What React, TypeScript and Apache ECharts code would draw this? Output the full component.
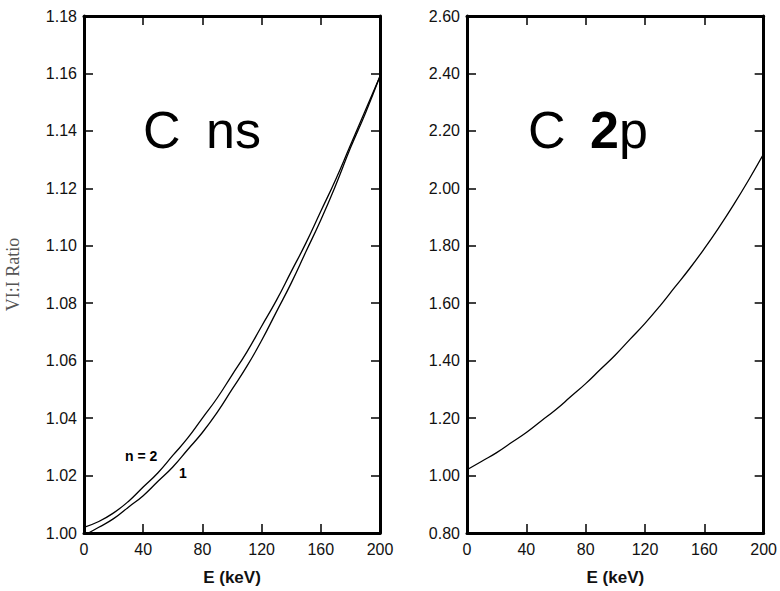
import React, { useEffect, useRef } from "react";
import * as echarts from "echarts";

// Left panel (C ns): E in keV, two curves n = 2 and n = 1
const E_N2 = [0, 10, 20, 30, 40, 50, 60, 70, 80, 90, 100, 110, 120, 130, 140, 150, 160, 170, 180, 190, 200];
const RATIO_N2 = [1.002, 1.004, 1.007, 1.011, 1.016, 1.021, 1.027, 1.033, 1.040, 1.047, 1.055, 1.063, 1.072, 1.081, 1.091, 1.101, 1.112, 1.123, 1.135, 1.147, 1.159];
const E_N1 = [3, 10, 20, 30, 40, 50, 60, 70, 80, 90, 100, 110, 120, 130, 140, 150, 160, 170, 180, 190, 200];
const RATIO_N1 = [1.000, 1.002, 1.005, 1.009, 1.013, 1.018, 1.023, 1.029, 1.035, 1.042, 1.050, 1.058, 1.067, 1.077, 1.087, 1.098, 1.109, 1.121, 1.134, 1.146, 1.159];

// Right panel (C 2p)
const E_2P = [0, 10, 20, 30, 40, 50, 60, 70, 80, 90, 100, 110, 120, 130, 140, 150, 160, 170, 180, 190, 200];
const RATIO_2P = [1.02, 1.05, 1.08, 1.115, 1.15, 1.19, 1.23, 1.275, 1.32, 1.37, 1.42, 1.475, 1.53, 1.59, 1.655, 1.72, 1.79, 1.865, 1.945, 2.03, 2.12];

const X_TICKS = [0, 40, 80, 120, 160, 200];
const LEFT_Y = { min: 1.0, max: 1.18, interval: 0.02 };
const RIGHT_Y = { min: 0.8, max: 2.6, interval: 0.2 };

const FONT = "Liberation Sans, Arial, Helvetica, sans-serif";

function pairs(xs: number[], ys: number[]) {
  return xs.map((x, i) => [x, ys[i]]);
}

export default function App() {
  const ref = useRef<HTMLDivElement>(null);

  useEffect(() => {
    if (!ref.current) return;
    const chart = echarts.init(ref.current, null, { renderer: "svg" });

    const axisLine = { show: true, onZero: false, lineStyle: { color: "#000", width: 3 } };
    const tick = { show: true, inside: true, length: 9, lineStyle: { color: "#000", width: 1.5 } };
    const label = { color: "#111", fontSize: 16, fontFamily: FONT };

    const xBase = (gridIndex: number, pos: "bottom" | "top") => ({
      type: "value" as const,
      gridIndex,
      position: pos,
      min: X_TICKS[0],
      max: X_TICKS[X_TICKS.length - 1],
      interval: X_TICKS[1] - X_TICKS[0],
      axisLine,
      axisTick: tick,
      splitLine: { show: false },
      axisLabel: pos === "bottom" ? { ...label, margin: 8 } : { show: false },
      name: pos === "bottom" ? "E (keV)" : "",
      nameLocation: "middle" as const,
      nameGap: 36,
      nameTextStyle: { fontFamily: FONT, fontWeight: "bold", fontSize: 17, color: "#111" },
    });

    const yBase = (gridIndex: number, pos: "left" | "right", r: any, withName: boolean) => ({
      type: "value" as const,
      gridIndex,
      position: pos,
      min: r.min,
      max: r.max,
      interval: r.interval,
      axisLine,
      axisTick: tick,
      splitLine: { show: false },
      axisLabel: pos === "left" ? { ...label, margin: 7, formatter: (v: number) => v.toFixed(2) } : { show: false },
      name: withName ? "VI:I Ratio" : "",
      nameLocation: "middle" as const,
      nameGap: 62,
      nameTextStyle: { fontFamily: "Liberation Serif, Times New Roman, serif", fontSize: 18, color: "#555" },
    });

    const lineSeries = (data: number[][], xi: number, yi: number) => ({
      type: "line" as const,
      xAxisIndex: xi,
      yAxisIndex: yi,
      data,
      showSymbol: false,
      smooth: true,
      lineStyle: { color: "#000", width: 1.3 },
      silent: true,
    });

    chart.setOption({
      animation: false,
      backgroundColor: "#fff",
      grid: [
        { left: 84, top: 16, width: 296, height: 524 },
        { left: 467, top: 16, width: 298, height: 524 },
      ],
      xAxis: [xBase(0, "bottom"), xBase(0, "top"), xBase(1, "bottom"), xBase(1, "top")],
      yAxis: [
        yBase(0, "left", LEFT_Y, true),
        yBase(0, "right", LEFT_Y, false),
        yBase(1, "left", RIGHT_Y, false),
        yBase(1, "right", RIGHT_Y, false),
      ],
      series: [
        lineSeries(pairs(E_N2, RATIO_N2), 0, 0),
        lineSeries(pairs(E_N1, RATIO_N1), 0, 0),
        lineSeries(pairs(E_2P, RATIO_2P), 2, 2),
      ],
      graphic: [
        { type: "text", x: 143, y: 130, style: { text: "C", font: `52px ${FONT}`, fill: "#000", verticalAlign: "middle" } },
        { type: "text", x: 206, y: 130, style: { text: "ns", font: `52px ${FONT}`, fill: "#000", verticalAlign: "middle" } },
        { type: "text", x: 528, y: 130, style: { text: "C", font: `52px ${FONT}`, fill: "#000", verticalAlign: "middle" } },
        { type: "text", x: 590, y: 130, style: { text: "2", font: `bold 52px ${FONT}`, fill: "#000", verticalAlign: "middle" } },
        { type: "text", x: 619, y: 130, style: { text: "p", font: `52px ${FONT}`, fill: "#000", verticalAlign: "middle" } },
        { type: "text", x: 125, y: 456, style: { text: "n = 2", font: `bold 14px ${FONT}`, fill: "#000", verticalAlign: "middle" } },
        { type: "text", x: 179, y: 473, style: { text: "1", font: `bold 14px ${FONT}`, fill: "#000", verticalAlign: "middle" } },
      ],
    });

    return () => chart.dispose();
  }, []);

  return (
    <div
      ref={ref}
      style={{ position: "fixed", left: 0, top: 0, width: 780, height: 591, background: "#fff" }}
    />
  );
}
